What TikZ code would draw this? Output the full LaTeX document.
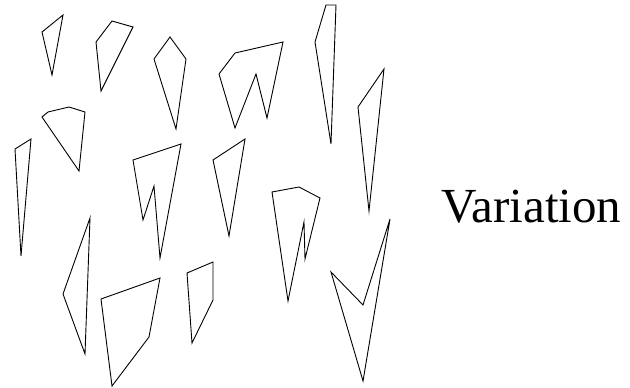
\documentclass[tikz,border=0pt]{standalone}
\usepackage{fontspec}
\setmainfont{Liberation Serif}
\usepackage{tikz}
\usetikzlibrary{positioning}

\tikzset{shard/.style={draw=black, line width=0.9pt, line join=miter}}

\begin{document}
\begin{tikzpicture}[x=1pt, y=-1pt]
                \useasboundingbox (0,0) rectangle (630,388);

                % Top row
                \draw[shard] (42,32) -- (63,15) -- (52,75) -- cycle;
                \draw[shard] (96,42) -- (112,21) -- (133,27) -- (101,91) -- cycle;
                \draw[shard] (170,37) -- (186,59) -- (176,129) -- (154,59) -- cycle;
                \draw[shard] (219,74) -- (235,53) -- (283,42) -- (267,118) -- (256,74) -- (235,128) -- cycle;
                \draw[shard] (326,5) -- (336,5) -- (331,144) -- (315,42) -- cycle;
                \draw[shard] (384,69) -- (369,211) -- (358,107) -- cycle;

                % Middle row
                \draw[shard] (42,117) -- (48,112) -- (69,107) -- (85,112) -- (79,171) -- cycle;
                \draw[shard] (15,149) -- (31,139) -- (21,256) -- cycle;
                \draw[shard] (133,160) -- (181,144) -- (160,258) -- (154,186) -- (143,220) -- cycle;
                \draw[shard] (213,160) -- (245,139) -- (229,236) -- cycle;
                \draw[shard] (272,192) -- (299,187) -- (320,198) -- (305,259) -- (304,222) -- (288,301) -- cycle;

                % Bottom row
                \draw[shard] (90,218) -- (63,294) -- (85,354) -- cycle;
                \draw[shard] (101,299) -- (160,278) -- (149,337) -- (112,386) -- cycle;
                \draw[shard] (187,273) -- (213,262) -- (213,300) -- (192,343) -- cycle;
                \draw[shard] (331,272) -- (363,305) -- (390,219) -- (363,381) -- cycle;

                \node[anchor=base, inner sep=0pt, font=\fontsize{49}{52}\selectfont] (label) at (531.5,222) {Variation};
            \end{tikzpicture}
\end{document}
